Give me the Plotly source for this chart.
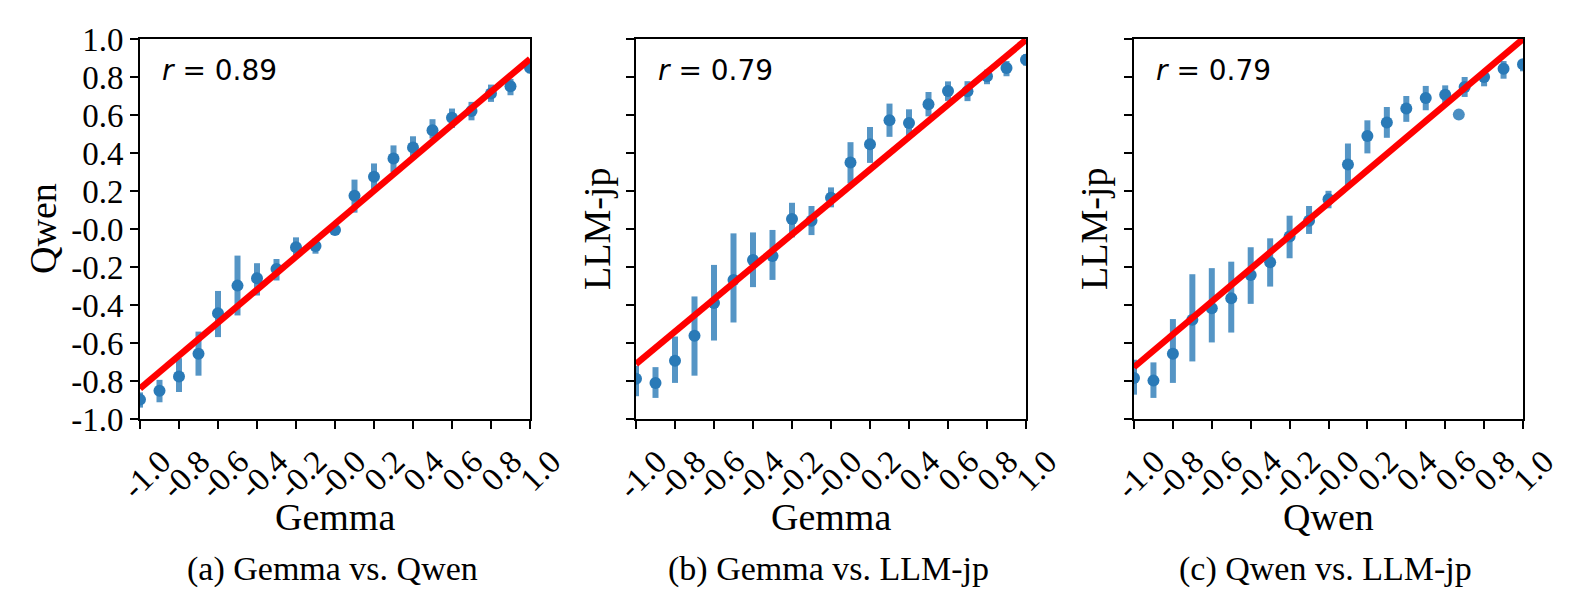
import plotly.graph_objects as go

# bins on the x axis (score of the first model)
bins = [-1.0, -0.9, -0.8, -0.7, -0.6, -0.5, -0.4, -0.3, -0.2, -0.1, 0.0,
        0.1, 0.2, 0.3, 0.4, 0.5, 0.6, 0.7, 0.8, 0.9, 1.0]

tick_vals = [-1.0, -0.8, -0.6, -0.4, -0.2, 0.0, 0.2, 0.4, 0.6, 0.8, 1.0]
tick_text = ["-1.0", "-0.8", "-0.6", "-0.4", "-0.2", "-0.0", "0.2", "0.4", "0.6", "0.8", "1.0"]

# (a) Gemma vs. Qwen
a_mean = [-0.898, -0.851, -0.776, -0.657, -0.443, -0.298, -0.259, -0.21, -0.096, -0.089, -0.005,
          0.175, 0.275, 0.371, 0.429, 0.52, 0.585, 0.621, 0.713, 0.751, 0.849]
a_upper = [-0.86, -0.794, -0.68, -0.54, -0.326, -0.14, -0.18, -0.158, -0.044, -0.05, 0.015,
           0.26, 0.345, 0.44, 0.488, 0.578, 0.634, 0.669, 0.76, 0.79, 0.875]
a_lower = [-0.94, -0.912, -0.858, -0.772, -0.569, -0.455, -0.35, -0.271, -0.142, -0.13, -0.025,
           0.086, 0.196, 0.30, 0.371, 0.476, 0.532, 0.572, 0.669, 0.704, 0.82]
a_fit = (0.8675, 0.0275)  # slope, intercept
a_r = 0.89

# (b) Gemma vs. LLM-jp
b_mean = [-0.788, -0.81, -0.693, -0.562, -0.39, -0.268, -0.163, -0.142, 0.053, 0.044, 0.165,
          0.35, 0.446, 0.572, 0.558, 0.656, 0.726, 0.725, 0.804, 0.847, 0.891]
b_upper = [-0.72, -0.727, -0.566, -0.355, -0.189, -0.023, -0.018, -0.005, 0.138, 0.121, 0.219,
           0.457, 0.537, 0.66, 0.63, 0.721, 0.777, 0.778, 0.839, 0.884, 0.92]
b_lower = [-0.88, -0.889, -0.81, -0.772, -0.587, -0.492, -0.306, -0.268, -0.044, -0.032, 0.114,
           0.24, 0.348, 0.485, 0.476, 0.593, 0.674, 0.673, 0.762, 0.804, 0.86]
b_fit = (0.8535, 0.1425)
b_r = 0.79

# (c) Qwen vs. LLM-jp
c_mean = [-0.784, -0.798, -0.656, -0.478, -0.417, -0.364, -0.242, -0.175, -0.04, 0.044, 0.156,
          0.34, 0.49, 0.56, 0.634, 0.69, 0.707, 0.747, 0.80, 0.844, 0.867]
c_upper = [-0.688, -0.702, -0.474, -0.238, -0.206, -0.172, -0.096, -0.049, 0.07, 0.121, 0.201,
           0.45, 0.572, 0.642, 0.70, 0.753, 0.756, 0.80, 0.835, 0.884, 0.89]
c_lower = [-0.872, -0.889, -0.81, -0.697, -0.597, -0.545, -0.394, -0.303, -0.154, -0.026, 0.109,
           0.231, 0.398, 0.48, 0.564, 0.625, 0.648, 0.695, 0.751, 0.791, 0.83]
c_extra_x = [0.67]
c_extra_y = [0.602]
c_fit = (0.8635, 0.1365)
c_r = 0.79

x_titles = ["Gemma", "Gemma", "Qwen"]
y_titles = ["Qwen", "LLM-jp", "LLM-jp"]
captions = ["(a) Gemma vs. Qwen", "(b) Gemma vs. LLM-jp", "(c) Qwen vs. LLM-jp"]

W, H = 1577, 601
OFF = 8  # page body margin
SERIF = "Liberation Serif"
SANS = "DejaVu Sans"
DOT = "#2a7ab7"
BAR = "rgba(42,122,183,0.8)"


def px(x):
    return (x - OFF) / W


def py(y):
    return 1 - (y - OFF) / H


panels = [
    (a_mean, a_upper, a_lower, a_fit, a_r),
    (b_mean, b_upper, b_lower, b_fit, b_r),
    (c_mean, c_upper, c_lower, c_fit, c_r),
]

fig = go.Figure()

for i, (mean, upper, lower, fit, r) in enumerate(panels):
    sfx = "" if i == 0 else str(i + 1)
    err_plus = [u - m for u, m in zip(upper, mean)]
    err_minus = [m - l for m, l in zip(mean, lower)]
    fig.add_trace(go.Scatter(
        x=bins, y=mean, mode="markers", xaxis="x" + sfx, yaxis="y" + sfx,
        marker=dict(color=DOT, size=12),
        error_y=dict(type="data", symmetric=False, array=err_plus, arrayminus=err_minus,
                     color=BAR, thickness=6, width=0),
        showlegend=False,
    ))
    slope, intercept = fit
    line_x = [-1.0, 1.0]
    fig.add_trace(go.Scatter(
        x=line_x, y=[slope * v + intercept for v in line_x], mode="lines",
        xaxis="x" + sfx, yaxis="y" + sfx,
        line=dict(color="#ff0000", width=6.5),
        showlegend=False,
    ))

fig.add_trace(go.Scatter(
    x=c_extra_x, y=c_extra_y, mode="markers", xaxis="x3", yaxis="y3",
    marker=dict(color="rgba(42,122,183,0.85)", size=12),
    showlegend=False,
))

x_domains = [(140, 530), (636, 1026), (1134, 1523)]
y_domain = [py(419), py(39)]

layout_axes = {}
for i, (x0, x1) in enumerate(x_domains):
    sfx = "" if i == 0 else str(i + 1)
    common = dict(
        range=[-1.0, 1.0], automargin=False, showgrid=False, zeroline=False,
        showline=True, linecolor="black", linewidth=2, mirror=True,
        ticks="outside", ticklen=8, tickwidth=1.5, tickcolor="black",
        tickmode="array", tickvals=tick_vals, ticktext=tick_text,
        tickfont=dict(family=SERIF, size=33, color="black"),
    )
    layout_axes["xaxis" + sfx] = dict(domain=[px(x0), px(x1)], anchor="y" + sfx,
                                      tickangle=-45, ticklabelshift=21, **common)
    layout_axes["yaxis" + sfx] = dict(domain=y_domain, anchor="x" + sfx,
                                      showticklabels=(i == 0), **common)

annotations = []
for i, (x0, x1) in enumerate(x_domains):
    mid = (x0 + x1) / 2
    r = panels[i][4]
    annotations.append(dict(
        text="<i>r</i> = %.2f" % r, x=px(x0 + 20), y=py(70), xref="paper", yref="paper",
        xanchor="left", yanchor="middle", showarrow=False,
        font=dict(family=SANS, size=28, color="black"),
    ))
    annotations.append(dict(
        text=x_titles[i], x=px(mid), y=py(517), xref="paper", yref="paper",
        xanchor="center", yanchor="middle", showarrow=False,
        font=dict(family=SERIF, size=38, color="black"),
    ))
    annotations.append(dict(
        text=captions[i], x=px(mid - 3), y=py(569), xref="paper", yref="paper",
        xanchor="center", yanchor="middle", showarrow=False,
        font=dict(family=SERIF, size=34, color="black"),
    ))

y_title_x = [43, 597, 1094]
for i, t in enumerate(y_titles):
    annotations.append(dict(
        text=t, x=px(y_title_x[i]), y=py(229), xref="paper", yref="paper",
        xanchor="center", yanchor="middle", textangle=-90, showarrow=False,
        font=dict(family=SERIF, size=38, color="black"),
    ))

fig.update_layout(
    width=W, height=H, autosize=False,
    margin=dict(t=0, b=0, l=0, r=0),
    paper_bgcolor="white", plot_bgcolor="white",
    annotations=annotations,
    **layout_axes,
)

fig.write_html("out.html")
